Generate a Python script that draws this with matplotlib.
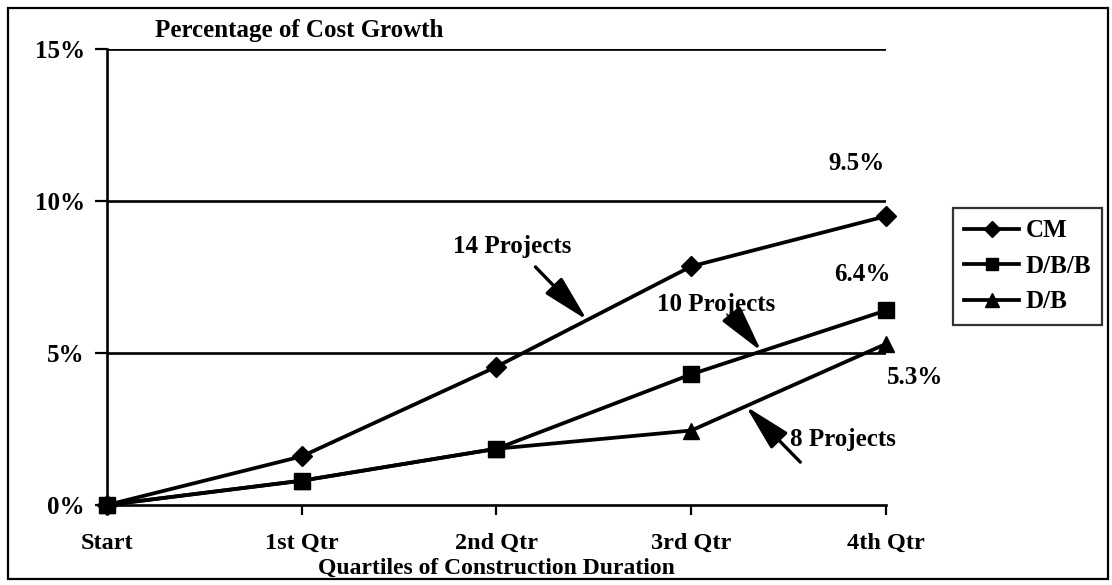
import numpy as np
import matplotlib.pyplot as plt
from matplotlib.patches import Rectangle

plt.rcParams['font.family'] = ['Liberation Serif', 'DejaVu Serif']
plt.rcParams['font.weight'] = 'bold'
plt.rcParams['axes.labelweight'] = 'bold'

# data (percent cost growth)
quarters = ["Start", "1st Qtr", "2nd Qtr", "3rd Qtr", "4th Qtr"]
cm = [0.0, 1.6, 4.55, 7.85, 9.5]
dbb = [0.0, 0.8, 1.85, 4.3, 6.4]
db = [0.0, 0.8, 1.85, 2.45, 5.3]
yticks = [0, 5, 10, 15]
ytick_labels = ["0%", "5%", "10%", "15%"]

W, H = 1112, 585
fig = plt.figure(figsize=(W / 100, H / 100), dpi=100)
ax = fig.add_axes([107 / W, 80 / H, 779 / W, 456 / H])

x = np.arange(len(quarters))
lw = 2.7
ax.plot(x, cm, color='k', lw=lw, marker='D', ms=10, label='CM', clip_on=False, zorder=5)
ax.plot(x, dbb, color='k', lw=lw, marker='s', ms=11, label='D/B/B', clip_on=False, zorder=5)
ax.plot(x, db, color='k', lw=lw, marker='^', ms=12, label='D/B', clip_on=False, zorder=5)

for v in yticks[1:]:
    ax.axhline(v, color='k', lw=1.9, zorder=1)

ax.set_xlim(0, 4)
ax.set_ylim(0, 15)
ax.set_xticks(x)
ax.set_xticklabels(quarters, fontsize=17.5)
ax.set_yticks(yticks)
ax.set_yticklabels(ytick_labels, fontsize=18)
ax.tick_params(axis='y', length=9, width=1.6, pad=7)
ax.tick_params(axis='x', length=7, width=1.6, pad=13)
for s in ['top', 'right']:
    ax.spines[s].set_visible(False)
for s in ['left', 'bottom']:
    ax.spines[s].set_linewidth(1.9)
ax.set_xlabel("Quartiles of Construction Duration", fontsize=17, labelpad=3)

fig.text(155 / W, 1 - 30 / H, "Percentage of Cost Growth", fontsize=18,
         ha='left', va='center')

# end-point value labels
ax.text(3.85, 11.25, "9.5%", fontsize=18, ha='center', va='center')
ax.text(3.88, 7.57, "6.4%", fontsize=18, ha='center', va='center')
ax.text(4.15, 4.18, "5.3%", fontsize=18, ha='center', va='center', clip_on=False)

# project-count callouts with arrows pointing at each line
arrow = dict(arrowstyle='-|>,head_length=0.9,head_width=0.22', color='k',
             lw=2.4, mutation_scale=32, shrinkA=0, shrinkB=0)
callouts = [
    ("14 Projects", cm, (2.08, 8.49), (2.20, 7.83), 2.465),
    ("10 Projects", dbb, (3.13, 6.58), (3.23, 6.09), 3.36),
    ("8 Projects", db, (3.78, 2.16), (3.56, 1.41), 3.28),
]
for label, series, txt_pos, tail, tip_x in callouts:
    ax.text(txt_pos[0], txt_pos[1], label, fontsize=18, ha='center', va='center')
    ax.annotate("", xy=(tip_x, np.interp(tip_x, x, series)), xytext=tail,
                arrowprops=arrow)

leg = ax.legend(loc='upper left', bbox_to_anchor=(953 / W, 1 - 208 / H),
                bbox_transform=fig.transFigure, fontsize=18, frameon=True,
                fancybox=False, edgecolor='k', handlelength=2.2,
                handletextpad=0.25, labelspacing=0.5, borderpad=0.45,
                borderaxespad=0, markerscale=0.85)
leg.get_frame().set_linewidth(1.6)

# outer frame around the whole chart
fig.patches.append(Rectangle((8 / W, 6 / H), 1100 / W, 571 / H,
                             transform=fig.transFigure, fill=False,
                             edgecolor='k', lw=1.6))

fig.savefig("out.png", dpi=100)
